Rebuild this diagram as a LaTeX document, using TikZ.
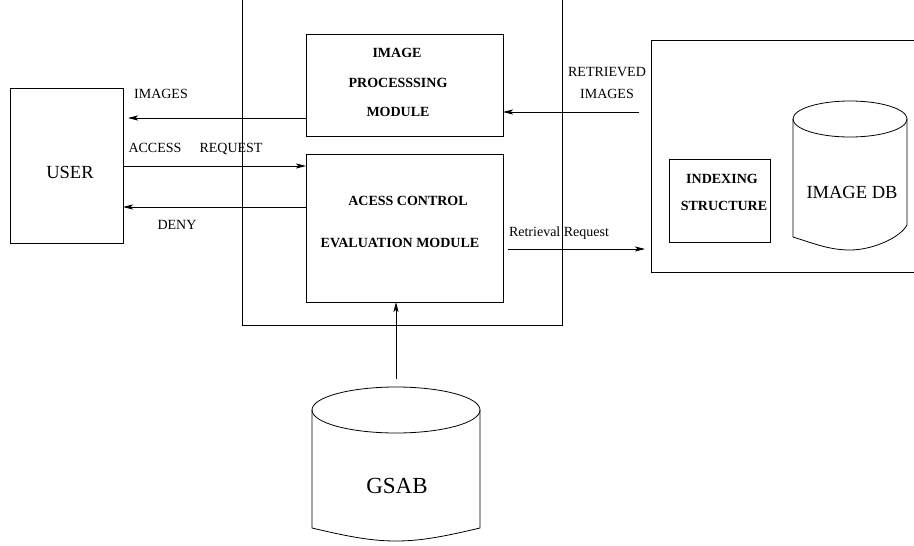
\documentclass[tikz,border=0pt]{standalone}
\usepackage{fontspec}
\setmainfont{Liberation Serif}
\usetikzlibrary{arrows.meta}
\begin{document}
\begin{tikzpicture}[x=1pt,y=-1pt,
  line width=0.8pt,
  box/.style={draw, inner sep=0pt, outer sep=0pt},
  lbl/.style={inner sep=0pt, font=\fontsize{14}{16}\selectfont, text height=0.66em, text depth=0pt},
  blbl/.style={inner sep=0pt, font=\fontsize{14}{16}\selectfont\bfseries, text height=0.66em, text depth=0pt},
  arr/.style={-{Stealth[length=10pt,width=5pt,inset=2.5pt]}}]
\useasboundingbox (0,0) rectangle (914,546);
% outer frames
\draw (242,0) -- (242,325) -- (562,325) -- (562,0);
\draw (914,40) -- (651,40) -- (651,272) -- (914,272);
% boxes
\node[box, minimum width=197pt, minimum height=102pt] (ipm) at (404.5,85) {};
\node[box, minimum width=197pt, minimum height=148pt] (ace) at (404.5,228) {};
\node[box, minimum width=113pt, minimum height=155pt] (user) at (66.5,165.5) {};
\node[box, minimum width=101pt, minimum height=83pt] (idx) at (719.5,200.5) {};
% box texts
\node[blbl] (t1) at (397,54) {IMAGE};
\node[blbl] (t2) at (398,84) {PROCESSSING};
\node[blbl] (t3) at (398,113) {MODULE};
\node[blbl] (t4) at (408,202) {ACESS CONTROL};
\node[blbl] (t5) at (400,244) {EVALUATION MODULE};
\node[blbl] (t6) at (722,180) {INDEXING};
\node[blbl] (t7) at (724,207) {STRUCTURE};
\node[inner sep=0pt, font=\fontsize{18.5}{20}\selectfont] (tu) at (70,172) {USER};
% image db cylinder
\draw (850,119) ellipse [x radius=57pt, y radius=18pt];
\draw (793,119) -- (793,237) .. controls (815,244) and (830,250) .. (850,250)
      .. controls (872,250) and (900,238) .. (907,225) -- (907,119);
\node[inner sep=0pt, font=\fontsize{18.5}{20}\selectfont] (tdb) at (852,192) {IMAGE DB};
% gsab cylinder
\draw (396,410) ellipse [x radius=84pt, y radius=23pt];
\draw (312,410) -- (312,528) .. controls (350,537) and (372,541) .. (396,541)
      .. controls (420,541) and (442,537) .. (480,528) -- (480,410);
\node[inner sep=0pt, font=\fontsize{23}{25}\selectfont] (tg) at (397,486) {GSAB};
% arrows
\coordinate (imgtip) at (128,118);
\draw[arr] (ipm.west |- imgtip) -- (imgtip);
\coordinate (acc) at (0,166);
\draw[arr] (user.east |- acc) -- (ace.west |- acc);
\coordinate (dn) at (0,207);
\draw[arr] (ace.west |- dn) -- (user.east |- dn);
\coordinate (rs) at (639,112);
\draw[arr] (rs) -- (ipm.east |- rs);
\coordinate (rr1) at (508,249);
\coordinate (rr2) at (645,249);
\draw[arr] (rr1) -- (rr2);
\coordinate (gs) at (396,379);
\draw[arr] (gs) -- (ace.south -| gs);
% labels
\node[lbl] (l1) at (161,95) {IMAGES};
\node[lbl] (l2) at (155,149) {ACCESS};
\node[lbl] (l3) at (231,149) {REQUEST};
\node[lbl] (l4) at (177,226) {DENY};
\node[lbl] (l5) at (607,73) {RETRIEVED};
\node[lbl] (l6) at (607,95) {IMAGES};
\node[lbl] (l7) at (559,233) {Retrieval Request};
\end{tikzpicture}
\end{document}
